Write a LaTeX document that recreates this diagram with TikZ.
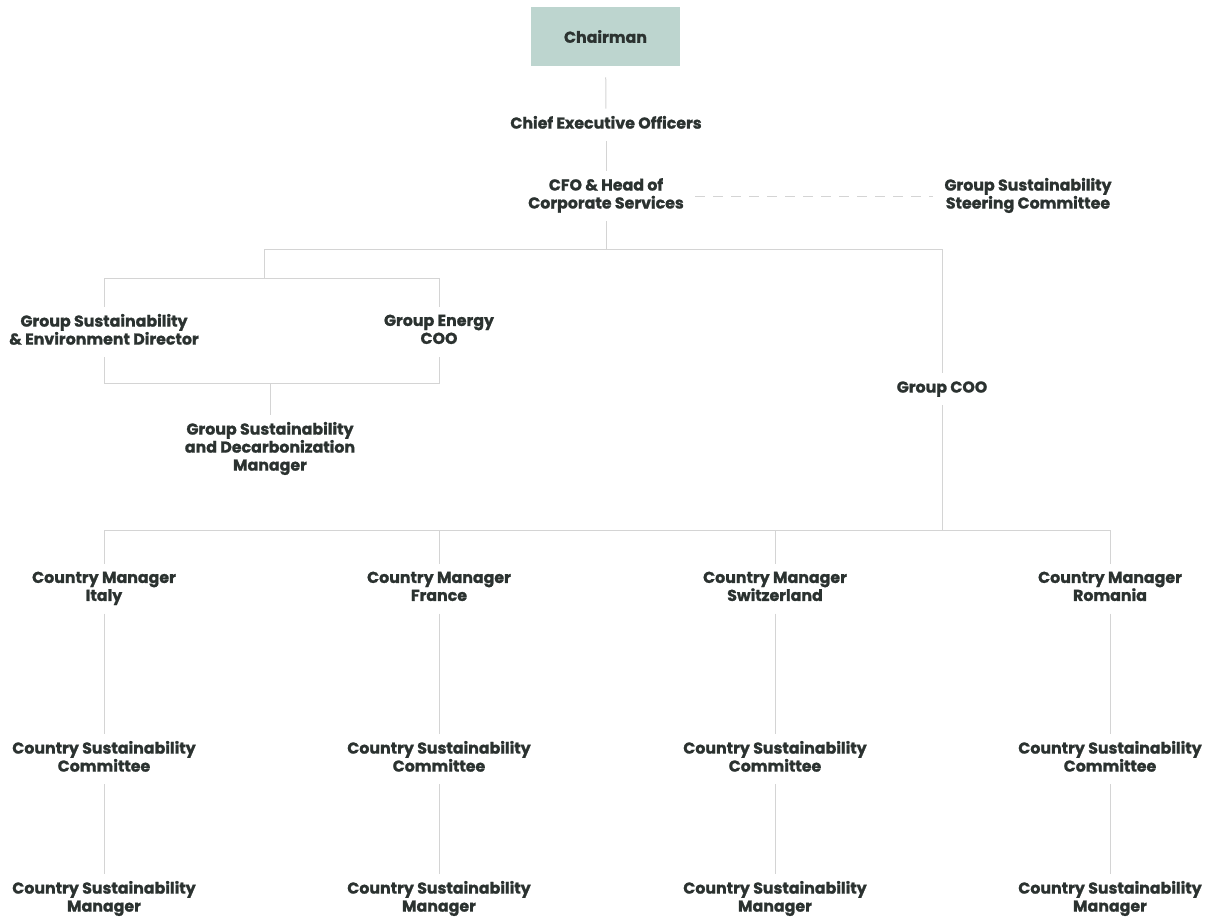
\documentclass[tikz,border=0pt]{standalone}
\usepackage{fontspec}
\setmainfont{Poppins}[BoldFeatures={FakeBold=1.2}]
\usepackage{tikz}

\definecolor{ink}{HTML}{2B3230}
\definecolor{sage}{HTML}{BDD5CF}
\definecolor{rule}{HTML}{D4D4D4}

\tikzset{
  txt/.style = {font=\bfseries\fontsize{7.9}{9}\selectfont, text=ink, align=center},
  lbl/.style = {txt, inner xsep=5.5pt, inner ysep=3.5pt, yshift=-1pt,
                execute at begin node=\strut, execute at end node=\strut},
  chairbox/.style = {txt, fill=sage, minimum width=74.5pt, minimum height=29.5pt},
  link/.style = {draw=rule, line width=0.5pt},
  dotlink/.style = {link, dash pattern=on 5pt off 4pt}
}

\begin{document}
\begin{tikzpicture}[x=0.5pt, y=-0.5pt]
        \useasboundingbox (0,0) rectangle (1214,917);

        % top of the chart
        \node[chairbox] (chair) at (605.5,36.5) {Chairman};
        \node[lbl] (ceo) at (606,123) {Chief Executive Officers};
        \node[lbl] (cfo) at (606,194) {CFO \& Head of\\Corporate Services};
        \node[lbl] (steer) at (1028,194) {Group Sustainability\\Steering Committee};

        \draw[link, shorten <=5.5pt] (chair) -- (ceo);
        \draw[link] (ceo) -- (cfo);
        \draw[dotlink] (cfo) -- (steer);

        % group level
        \node[lbl] (gsed) at (104,330) {Group Sustainability\\\& Environment Director};
        \node[lbl] (energy) at (439,330) {Group Energy\\COO};
        \node[lbl] (decarb) at (270,447) {Group Sustainability\\and Decarbonization\\Manager};
        \node[lbl] (gcoo) at (942,387) {Group COO};

        \coordinate (splitL) at (264,249);
        \coordinate (splitR) at (942,249);
        \coordinate (envtop) at (104,278);
        \coordinate (envbot) at (104,383);

        \draw[link] (cfo) -- (cfo |- splitL);
        \draw[link] (splitL) -- (splitR) -- (gcoo);
        \draw[link] (splitL) -- (splitL |- envtop);
        \draw[link] (gsed) -- (envtop) -| (energy);
        \draw[link] (gsed) -- (envbot) -| (energy);
        \draw[link] (decarb |- envbot) -- (decarb);

        % countries
        \coordinate (cbarL) at (104,530);
        \coordinate (cbarR) at (1110,530);
        \draw[link] (gcoo) -- (gcoo |- cbarL);
        \draw[link] (cbarL) -- (cbarR);

        \foreach \x/\land [count=\i] in {104/Italy, 439/France, 775/Switzerland, 1110/Romania} {
          \node[lbl] (cm\i) at (\x,587) {Country Manager\\\land};
          \node[lbl] (csc\i) at (\x,757) {Country Sustainability\\Committee};
          \node[lbl] (csm\i) at (\x,897) {Country Sustainability\\Manager};
          \draw[link] (cm\i |- cbarL) -- (cm\i);
          \draw[link] (cm\i) -- (csc\i);
          \draw[link] (csc\i) -- (csm\i);
        }
\end{tikzpicture}
\end{document}
